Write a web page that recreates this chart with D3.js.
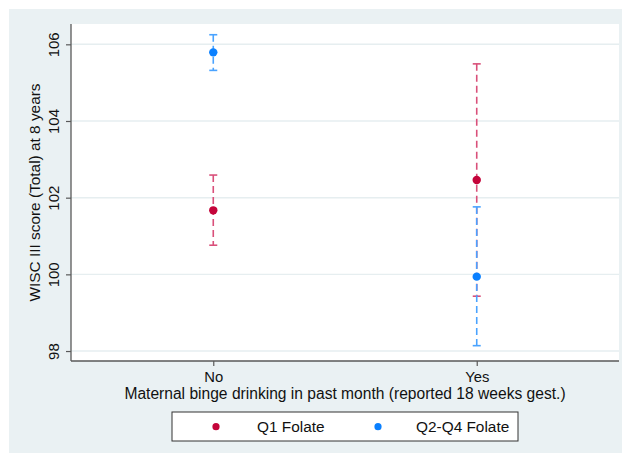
<!DOCTYPE html>
<html>
<head>
<meta charset="utf-8">
<script src="https://cdn.jsdelivr.net/npm/d3@7"></script>
<style>
  html, body { margin: 0; padding: 0; background: #fff; }
  svg { display: block; font-family: "Liberation Sans", Arial, Helvetica, sans-serif; }
</style>
</head>
<body>
<svg id="chart" width="623" height="454"></svg>
<script>
// Binge-drinking groups on the x axis
const categories = ["No", "Yes"];
// Folate groups (series)
const seriesNames = ["Q1 Folate", "Q2-Q4 Folate"];
const seriesColors = ["#c4043a", "#0a80ff"];
const barColors = ["#d9507a", "#4aa3ff"];
// Mean WISC III total score and 95% CI per group
const q1Mean  = [101.67, 102.46];
const q1Low   = [100.76, 99.43];
const q1High  = [102.59, 105.49];
const q24Mean = [105.79, 99.94];
const q24Low  = [105.32, 98.14];
const q24High = [106.25, 101.76];
const yTicks = [98, 100, 102, 104, 106];

const series = [
  { name: seriesNames[0], mean: q1Mean, low: q1Low, high: q1High, color: seriesColors[0], bar: barColors[0] },
  { name: seriesNames[1], mean: q24Mean, low: q24Low, high: q24High, color: seriesColors[1], bar: barColors[1] }
];

const svg = d3.select("#chart");
const plot = { left: 71, right: 619, top: 24, bottom: 361 };
const fs = 15.4;

// outer panel
svg.append("rect").attr("x", 9).attr("y", 9).attr("width", 613).attr("height", 444)
  .attr("fill", "#eaf1f3");
svg.append("rect").attr("x", plot.left).attr("y", plot.top)
  .attr("width", plot.right - plot.left).attr("height", plot.bottom - plot.top)
  .attr("fill", "#ffffff");

const x = d3.scaleLinear().domain([-0.54, 1.54]).range([plot.left, plot.right]);
const y = d3.scaleLinear().domain([97.74, 106.53]).range([plot.bottom, plot.top]);

// grid lines
svg.append("g").selectAll("line").data(yTicks).join("line")
  .attr("x1", plot.left).attr("x2", plot.right)
  .attr("y1", d => y(d)).attr("y2", d => y(d))
  .attr("stroke", "#e6eef0").attr("stroke-width", 1.4);

// y axis
const yAxis = svg.append("g").attr("transform", `translate(${plot.left},0)`)
  .call(d3.axisLeft(y).tickValues(yTicks).tickSize(5).tickPadding(4).tickFormat(d3.format("d")));
yAxis.select(".domain").attr("stroke", "#595959").attr("stroke-width", 1.3)
  .attr("d", `M0,${plot.top}V${plot.bottom}`);
yAxis.selectAll(".tick line").attr("stroke", "#595959").attr("stroke-width", 1.2);
yAxis.selectAll(".tick text")
  .attr("font-size", 15).attr("fill", "#111")
  .attr("transform", "rotate(-90)")
  .attr("x", 0).attr("y", -11.7).attr("dy", 0)
  .attr("text-anchor", "middle");

// x axis
const xAxis = svg.append("g").attr("transform", `translate(0,${plot.bottom})`)
  .call(d3.axisBottom(x).tickValues([0, 1]).tickSize(5).tickPadding(3)
    .tickFormat(i => categories[i]));
xAxis.select(".domain").attr("stroke", "#595959").attr("stroke-width", 1.3)
  .attr("d", `M${plot.left},0H${plot.right}`);
xAxis.selectAll(".tick line").attr("stroke", "#595959").attr("stroke-width", 1.2);
xAxis.selectAll(".tick text").attr("font-size", 14.8).attr("fill", "#111")
  .attr("y", 20.5).attr("dy", 0);

// axis titles
svg.append("text")
  .attr("transform", `translate(39.5,${(plot.top + plot.bottom) / 2}) rotate(-90)`)
  .attr("text-anchor", "middle").attr("font-size", fs).attr("fill", "#111")
  .text("WISC III score (Total) at 8 years");
svg.append("text")
  .attr("x", (plot.left + plot.right) / 2).attr("y", 399)
  .attr("text-anchor", "middle").attr("font-size", 15.6).attr("fill", "#111")
  .text("Maternal binge drinking in past month (reported 18 weeks gest.)");

// confidence intervals (dashed) with caps
series.forEach(s => {
  const g = svg.append("g");
  categories.forEach((c, i) => {
    const cx = x(i);
    g.append("line").attr("x1", cx).attr("x2", cx)
      .attr("y1", y(s.high[i])).attr("y2", y(s.low[i]))
      .attr("stroke", s.bar).attr("stroke-width", 1.6)
      .attr("stroke-dasharray", "7,4");
    [s.high[i], s.low[i]].forEach(v => {
      g.append("line").attr("x1", cx - 4).attr("x2", cx + 4)
        .attr("y1", y(v)).attr("y2", y(v))
        .attr("stroke", s.bar).attr("stroke-width", 1.6);
    });
  });
});

// point estimates
series.forEach(s => {
  svg.append("g").selectAll("circle").data(s.mean).join("circle")
    .attr("cx", (d, i) => x(i)).attr("cy", d => y(d)).attr("r", 4.2)
    .attr("fill", s.color);
});

// legend
const leg = svg.append("g");
leg.append("rect").attr("x", 172).attr("y", 412).attr("width", 346).attr("height", 29)
  .attr("fill", "#fff").attr("stroke", "#333").attr("stroke-width", 1);
const legX = [216, 378];
const legTextX = [257, 416];
series.forEach((s, i) => {
  leg.append("circle").attr("cx", legX[i]).attr("cy", 426.7).attr("r", 3.6).attr("fill", s.color);
  leg.append("text").attr("x", legTextX[i]).attr("y", 431.5)
    .attr("font-size", fs).attr("fill", "#111").text(s.name);
});
</script>
</body>
</html>
